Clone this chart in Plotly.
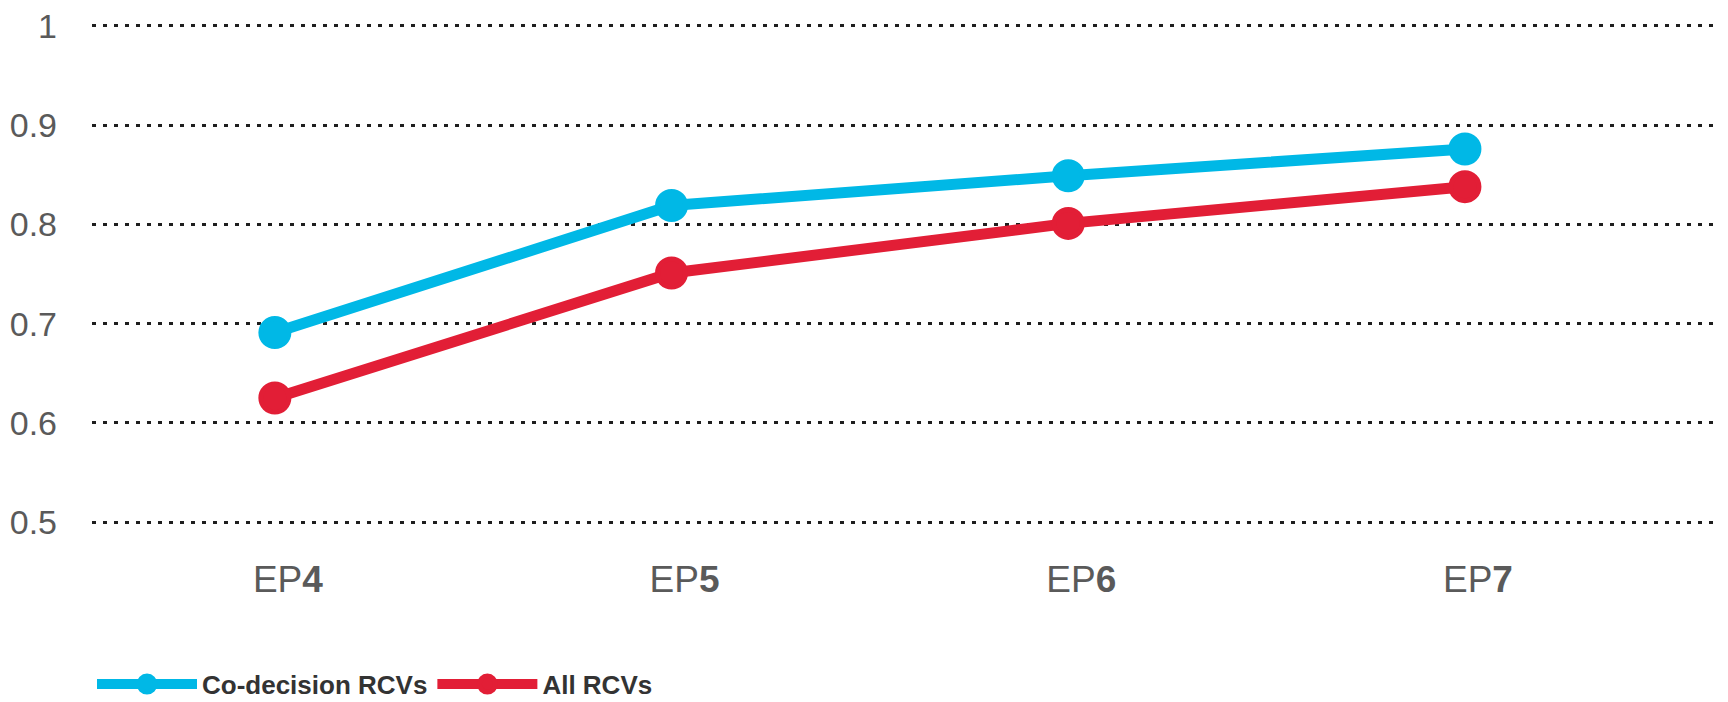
import plotly.graph_objects as go

categories = ["EP4", "EP5", "EP6", "EP7"]
tick_labels = ["EP<b>4</b>", "EP<b>5</b>", "EP<b>6</b>", "EP<b>7</b>"]
codecision = [0.691, 0.819, 0.849, 0.876]
all_rcvs = [0.625, 0.751, 0.801, 0.838]
y_ticks = [0.5, 0.6, 0.7, 0.8, 0.9, 1.0]
y_tick_text = ["0.5", "0.6", "0.7", "0.8", "0.9", "1"]

BLUE = "#00B8E6"
RED = "#E21E36"
FONT = "Liberation Sans, Arial, sans-serif"

x_pos = list(range(len(categories)))

fig = go.Figure()
fig.add_trace(go.Scatter(
    x=x_pos, y=codecision, name="Co-decision RCVs", mode="lines+markers",
    line=dict(color=BLUE, width=11),
    marker=dict(color=BLUE, size=28, line=dict(color=BLUE, width=5)),
))
fig.add_trace(go.Scatter(
    x=x_pos, y=all_rcvs, name="All RCVs", mode="lines+markers",
    line=dict(color=RED, width=11),
    marker=dict(color=RED, size=28, line=dict(color=RED, width=5)),
))

fig.update_layout(
    width=1728, height=702,
    margin=dict(l=84, r=16, t=8, b=178, autoexpand=False),
    paper_bgcolor="white", plot_bgcolor="white",
    font=dict(family=FONT, color="#5a5a5a", size=34),
    showlegend=True,
    legend=dict(
        orientation="h", x=0, xanchor="left", y=-0.295, yanchor="middle",
        font=dict(family=FONT, size=26, color="#333333", weight="bold"),
        itemwidth=100, traceorder="normal",
        bgcolor="rgba(0,0,0,0)",
    ),
    xaxis=dict(
        range=[-0.461, 3.643], tickmode="array", tickvals=x_pos, ticktext=tick_labels,
        showgrid=False, zeroline=False, showline=False, ticks="",
        ticklabelstandoff=22, ticklabelshift=13, automargin=False,
        ticklabeloverflow="allow",
        tickfont=dict(family=FONT, size=37, color="#5a5a5a"),
    ),
    yaxis=dict(
        range=[0.49, 1.01], tickmode="array", tickvals=y_ticks, ticktext=y_tick_text,
        showgrid=True, gridcolor="#1e1e1e", gridwidth=3, griddash="4px,7px",
        zeroline=False, showline=False, ticks="",
        ticklabelstandoff=34, automargin=False,
        ticklabeloverflow="allow",
        tickfont=dict(family=FONT, size=34, color="#5a5a5a"),
    ),
)

fig.write_html("out.html")
